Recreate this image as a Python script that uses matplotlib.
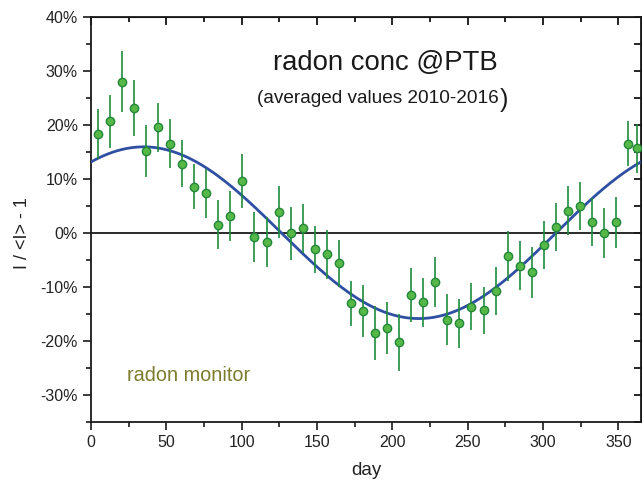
import numpy as np
import matplotlib
matplotlib.use("Agg")
import matplotlib.pyplot as plt
from matplotlib.ticker import MultipleLocator, FuncFormatter

plt.rcParams['font.family'] = ['Liberation Sans', 'DejaVu Sans']

# averaged radon concentration, deviation from mean in %, 8-day bins
day = [4.5, 12.5, 20.5, 28.5, 36.5, 44.5, 52.5, 60.5, 68.5, 76.5,
       84.5, 92.5, 100.5, 108.5, 116.5, 124.5, 132.5, 140.5, 148.5, 156.5,
       164.5, 172.5, 180.5, 188.5, 196.5, 204.5, 212.5, 220.5, 228.5, 236.5,
       244.5, 252.5, 260.5, 268.5, 276.5, 284.5, 292.5, 300.5, 308.5, 316.5,
       324.5, 332.5, 340.5, 348.5, 356.5, 362.5]
dev = [18.3, 20.6, 28.0, 23.1, 15.2, 19.5, 16.5, 12.8, 8.5, 7.3,
       1.5, 3.1, 9.5, -0.8, -1.7, 3.9, -0.1, 0.8, -3.1, -4.0,
       -5.7, -13.1, -14.5, -18.5, -17.6, -20.3, -11.5, -12.9, -9.1, -16.1,
       -16.8, -13.7, -14.4, -10.8, -4.3, -6.1, -7.3, -2.3, 1.1, 4.1,
       4.9, 2.0, 0.0, 1.9, 16.5, 15.6]
err = [4.7, 4.9, 5.6, 5.1, 4.8, 4.5, 4.5, 4.3, 4.2, 4.5,
       4.5, 4.6, 5.0, 4.7, 4.7, 4.8, 4.9, 4.6, 4.4, 4.5,
       4.4, 4.2, 4.8, 5.0, 4.8, 5.3, 5.0, 4.5, 4.6, 4.7,
       4.6, 4.4, 4.3, 4.4, 4.6, 4.6, 4.7, 4.5, 4.4, 4.6,
       4.4, 4.5, 4.6, 4.8, 4.1, 4.5]

# cosine fit
fit_amplitude = 15.9   # %
fit_peak_day = 35.0
fit_period = 365.0


def main():
    fig = plt.figure(figsize=(6.42, 4.86), dpi=100)
    ax = fig.add_axes([0.1417, 0.1323, 0.8567, 0.8333])

    t = np.linspace(0, 365, 400)
    ax.plot(t, fit_amplitude * np.cos(2 * np.pi * (t - fit_peak_day) / fit_period),
            color='#2f4fa3', lw=2.0, zorder=3)
    ax.axhline(0, color='#1a1a1a', lw=1.3, zorder=2)
    ax.errorbar(day, dev, yerr=err, fmt='o', ms=6, mfc='#55b847', mec='#23883a',
                mew=1.0, ecolor='#1f8c3f', elinewidth=1.2, capsize=0, zorder=4)

    ax.set_xlim(0, 365)
    ax.set_ylim(-35, 40)
    ax.xaxis.set_major_locator(MultipleLocator(50))
    ax.xaxis.set_minor_locator(MultipleLocator(25))
    ax.yaxis.set_major_locator(MultipleLocator(10))
    ax.yaxis.set_minor_locator(MultipleLocator(5))
    ax.yaxis.set_major_formatter(FuncFormatter(lambda v, p: f"{int(round(v))}%"))

    for s in ax.spines.values():
        s.set_linewidth(1.3)
        s.set_color('#1a1a1a')
    ax.tick_params(which='both', direction='out', colors='#1a1a1a', labelsize=11.5,
                   width=1.2, labelcolor='#222222')
    ax.tick_params(which='major', length=6)
    ax.tick_params(which='minor', length=3.5)
    # inner ticks on top and right
    sec_x = ax.secondary_xaxis('top')
    sec_x.xaxis.set_major_locator(MultipleLocator(50))
    sec_x.xaxis.set_minor_locator(MultipleLocator(25))
    sec_x.tick_params(which='both', direction='in', labeltop=False, width=1.2)
    sec_x.tick_params(which='major', length=6)
    sec_x.tick_params(which='minor', length=3.5)
    sec_y = ax.secondary_yaxis('right')
    sec_y.yaxis.set_major_locator(MultipleLocator(10))
    sec_y.yaxis.set_minor_locator(MultipleLocator(5))
    sec_y.tick_params(which='both', direction='in', labelright=False, width=1.2)
    sec_y.tick_params(which='major', length=5)
    sec_y.tick_params(which='minor', length=5)

    ax.set_xlabel("day", fontsize=13.5, color='#222222', labelpad=9)
    ax.set_ylabel("I / <I> - 1", fontsize=13, color='#222222')
    ax.yaxis.set_label_coords(-0.109, 0.465)

    ax.text(0.5345, 0.868, "radon conc @PTB", transform=ax.transAxes, ha='center',
            va='baseline', fontsize=19.8, color='#1a1a1a')
    sub = ax.text(0.5218, 0.787, "(averaged values 2010-2016", transform=ax.transAxes,
                  ha='center', va='baseline', fontsize=13.7, color='#1a1a1a')
    ax.annotate(")", xy=(1.0, 0.0), xycoords=sub, ha='left', va='bottom',
                fontsize=18, color='#1a1a1a', xytext=(0.8, -3.5), textcoords='offset points')
    ax.text(0.065, 0.115, "radon monitor", transform=ax.transAxes, ha='left',
            va='center', fontsize=14.3, color='#7c7c2e')

    fig.savefig("out.png", dpi=100)


if __name__ == "__main__":
    main()
